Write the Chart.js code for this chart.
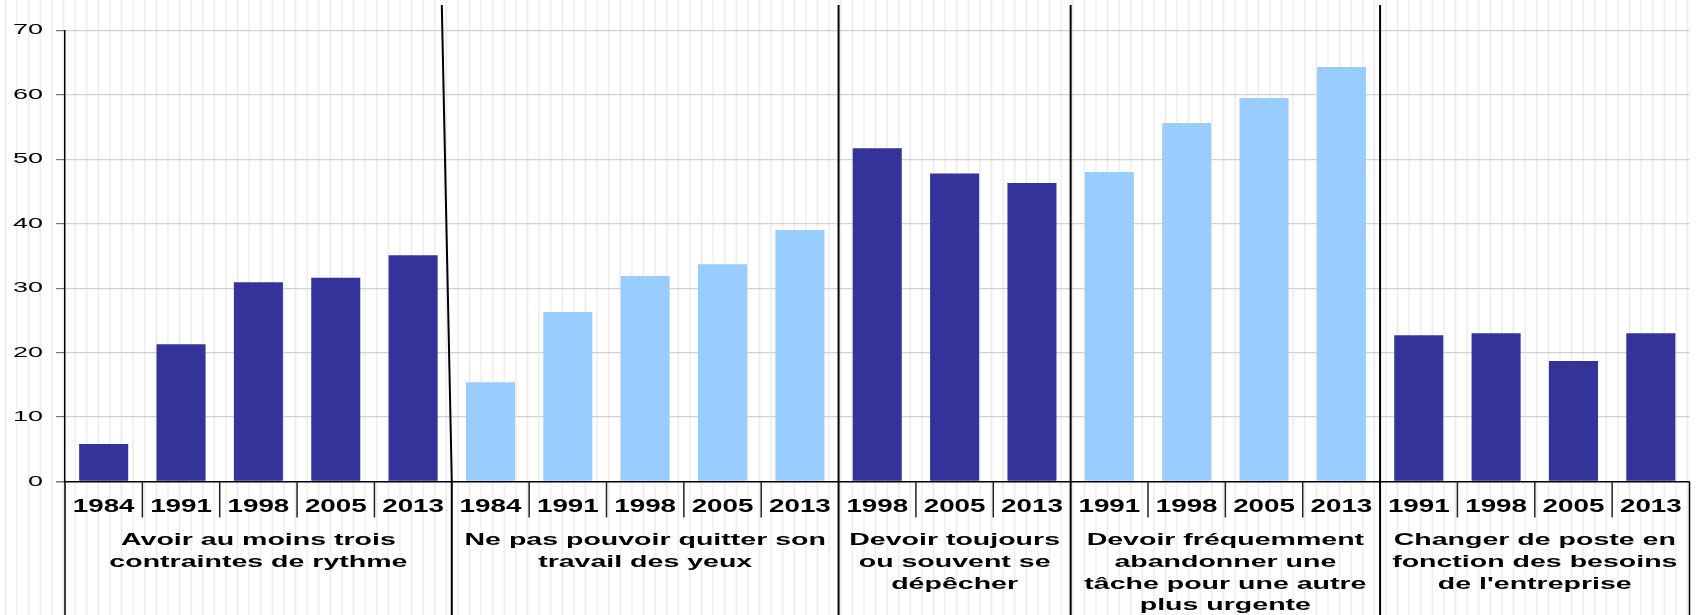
<!DOCTYPE html>
<html>
<head>
<meta charset="utf-8">
<script src="https://cdn.jsdelivr.net/npm/chart.js@4.4.0/dist/chart.umd.min.js"></script>
<style>
  html, body { margin: 0; padding: 0; }
  body {
    width: 1696px; height: 615px; overflow: hidden;
    background: repeating-linear-gradient(90deg, #ffffff 0px, #ffffff 4px, #ebebeb 5.5px, #ffffff 7px, #ffffff 11.6px);
  }
  #wrap { position: relative; width: 1696px; height: 615px; }
</style>
</head>
<body>
<div id="wrap"><canvas id="c" width="1696" height="615"></canvas></div>
<script>
// ---- data ----
const groupLabels = [
  ["Avoir au moins trois", "contraintes de rythme"],
  ["Ne pas pouvoir quitter son", "travail des yeux"],
  ["Devoir toujours", "ou souvent se", "dépêcher"],
  ["Devoir fréquemment", "abandonner une", "tâche pour une autre", "plus urgente"],
  ["Changer de poste en", "fonction des besoins", "de l'entreprise"]
];
const years1 = ["1984", "1991", "1998", "2005", "2013"];
const years2 = ["1984", "1991", "1998", "2005", "2013"];
const years3 = ["1998", "2005", "2013"];
const years4 = ["1991", "1998", "2005", "2013"];
const years5 = ["1991", "1998", "2005", "2013"];
const values1 = [5.8, 21.3, 30.9, 31.6, 35.1];
const values2 = [15.4, 26.3, 31.9, 33.7, 39.0];
const values3 = [51.7, 47.8, 46.3];
const values4 = [48.0, 55.6, 59.5, 64.3];
const values5 = [22.7, 23.0, 18.7, 23.0];
const yTicks = [0, 10, 20, 30, 40, 50, 60, 70];

// ---- styles ----
const DARK = '#333399', LIGHT = '#99CCFF';
const groupColors = [DARK, LIGHT, DARK, LIGHT, DARK];
const FONT = '"Liberation Sans", Arial, sans-serif';

const groupYears = [years1, years2, years3, years4, years5];
const groupValues = [values1, values2, values3, values4, values5];

const labels = [], data = [], colors = [], groupStart = [];
groupYears.forEach((ys, g) => {
  groupStart.push(labels.length);
  ys.forEach((y, i) => {
    labels.push(g + '-' + y);
    data.push(groupValues[g][i]);
    colors.push(groupColors[g]);
  });
});
groupStart.push(labels.length);

function stretchText(ctx, text, x, y, sx, align) {
  ctx.save();
  ctx.translate(x, y);
  ctx.scale(sx, 1);
  ctx.textAlign = align || 'center';
  ctx.textBaseline = 'middle';
  ctx.fillText(text, 0, 0);
  ctx.restore();
}

const decor = {
  id: 'decor',
  afterDraw(chart) {
    const ctx = chart.ctx;
    const xs = chart.scales.x, ys = chart.scales.y;
    const area = chart.chartArea;
    const H = chart.height;
    const n = labels.length;
    const boundary = (i) => {
      if (i <= 0) return area.left;
      if (i >= n) return area.right;
      return (xs.getPixelForValue(i - 1) + xs.getPixelForValue(i)) / 2;
    };
    ctx.save();
    ctx.strokeStyle = '#000';
    // small year separators
    ctx.lineWidth = 1.5;
    ctx.strokeStyle = '#222';
    for (let g = 0; g < groupYears.length; g++) {
      for (let i = groupStart[g] + 1; i < groupStart[g + 1]; i++) {
        const x = boundary(i);
        ctx.beginPath();
        ctx.moveTo(x, area.bottom);
        ctx.lineTo(x, area.bottom + 36);
        ctx.stroke();
      }
    }
    // outer edges below the axis
    ctx.strokeStyle = '#000';
    ctx.lineWidth = 1.5;
    [area.left, area.right].forEach(x => {
      ctx.beginPath();
      ctx.moveTo(x, area.bottom);
      ctx.lineTo(x, H);
      ctx.stroke();
    });
    // group separators
    ctx.lineWidth = 2;
    for (let g = 1; g < groupYears.length; g++) {
      const x = boundary(groupStart[g]);
      const topX = g === 1 ? x - 10 : x;
      ctx.beginPath();
      ctx.moveTo(topX, 5);
      ctx.lineTo(x, area.bottom);
      ctx.lineTo(x, H);
      ctx.stroke();
    }
    // year labels
    ctx.fillStyle = '#000';
    ctx.font = 'bold 18.5px ' + FONT;
    for (let i = 0; i < n; i++) {
      const yr = labels[i].split('-')[1];
      stretchText(ctx, yr, xs.getPixelForValue(i), area.bottom + 25, 1.5);
    }
    // group labels
    ctx.font = 'bold 16.8px ' + FONT;
    for (let g = 0; g < groupLabels.length; g++) {
      const cx = (boundary(groupStart[g]) + boundary(groupStart[g + 1])) / 2;
      groupLabels[g].forEach((line, k) => {
        stretchText(ctx, line, cx, area.bottom + 59 + k * 21.7, 1.7);
      });
    }
    // y tick labels
    ctx.font = '15px ' + FONT;
    yTicks.forEach(v => {
      stretchText(ctx, String(v), area.left - 22, ys.getPixelForValue(v), 1.8, 'right');
    });
    ctx.restore();
  }
};

new Chart(document.getElementById('c'), {
  type: 'bar',
  data: {
    labels: labels,
    datasets: [{
      data: data,
      backgroundColor: colors,
      borderWidth: 0,
      categoryPercentage: 1.0,
      barPercentage: 0.634
    }]
  },
  options: {
    responsive: false,
    animation: false,
    events: [],
    layout: { padding: { left: 0, right: 6.5, top: 30.3, bottom: 133.5 } },
    plugins: { legend: { display: false }, tooltip: { enabled: false } },
    scales: {
      x: { display: false, offset: true },
      y: {
        min: 0, max: 70,
        afterFit(s) { s.width = 65; },
        ticks: { stepSize: 10, display: false },
        grid: {
          color: (c) => c.tick && c.tick.value === 0 ? '#000' : '#d2d2d2',
          lineWidth: (c) => c.tick && c.tick.value === 0 ? 1.5 : 1.2,
          tickLength: 9,
          tickColor: '#777'
        },
        border: { display: true, color: '#000', width: 1.5 }
      }
    }
  },
  plugins: [decor]
});
</script>
</body>
</html>
